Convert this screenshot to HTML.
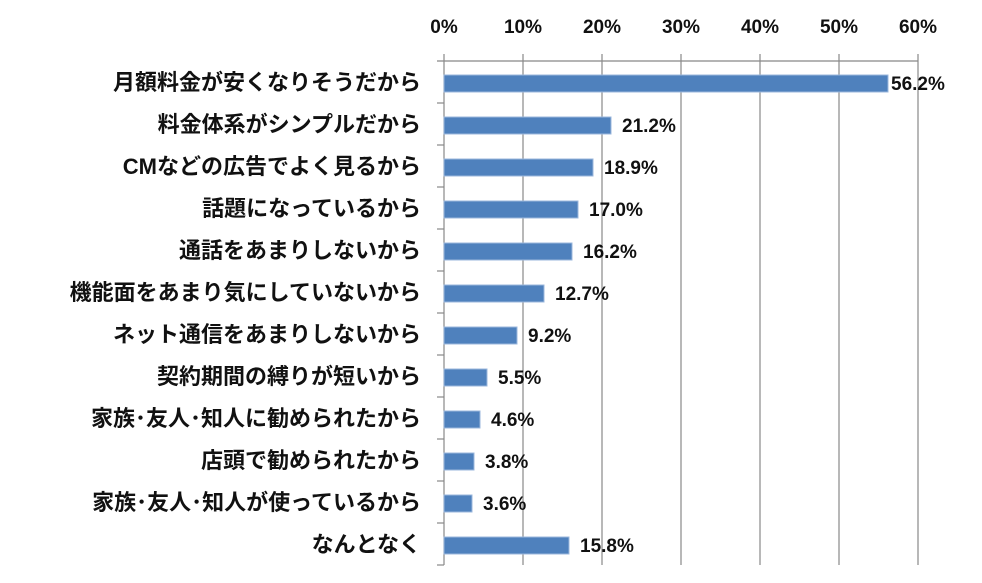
<!DOCTYPE html><html><head><meta charset="utf-8"><style>
body{margin:0;background:#fff;width:982px;height:578px;overflow:hidden}
text{font-family:"Liberation Sans","Noto Sans CJK JP",sans-serif;fill:#111}
</style></head><body>
<svg width="982" height="578" xmlns="http://www.w3.org/2000/svg">
<g stroke="#888" stroke-width="1.2">
<line x1="444" y1="54" x2="444" y2="565"/>
<line x1="523" y1="54" x2="523" y2="565"/>
<line x1="602" y1="54" x2="602" y2="565"/>
<line x1="681" y1="54" x2="681" y2="565"/>
<line x1="760" y1="54" x2="760" y2="565"/>
<line x1="839" y1="54" x2="839" y2="565"/>
<line x1="918" y1="54" x2="918" y2="565"/>
<line x1="437" y1="61" x2="918" y2="61"/>
<line x1="437" y1="103" x2="444" y2="103"/><line x1="437" y1="145" x2="444" y2="145"/><line x1="437" y1="187" x2="444" y2="187"/><line x1="437" y1="229" x2="444" y2="229"/><line x1="437" y1="271" x2="444" y2="271"/><line x1="437" y1="313" x2="444" y2="313"/><line x1="437" y1="355" x2="444" y2="355"/><line x1="437" y1="397" x2="444" y2="397"/><line x1="437" y1="439" x2="444" y2="439"/><line x1="437" y1="481" x2="444" y2="481"/><line x1="437" y1="523" x2="444" y2="523"/><line x1="437" y1="565" x2="444" y2="565"/>
</g>
<g font-size="19" font-weight="bold" text-anchor="middle">
<text x="444" y="33">0%</text><text x="523" y="33">10%</text><text x="602" y="33">20%</text><text x="681" y="33">30%</text><text x="760" y="33">40%</text><text x="839" y="33">50%</text><text x="918" y="33">60%</text>
</g>
<g fill="#4f81bd" stroke="#9bb7dc" stroke-width="1">
<rect x="444" y="75" width="444" height="17"/>
<rect x="444" y="117" width="167" height="17"/>
<rect x="444" y="159" width="149" height="17"/>
<rect x="444" y="201" width="134" height="17"/>
<rect x="444" y="243" width="128" height="17"/>
<rect x="444" y="285" width="100" height="17"/>
<rect x="444" y="327" width="73" height="17"/>
<rect x="444" y="369" width="43" height="17"/>
<rect x="444" y="411" width="36" height="17"/>
<rect x="444" y="453" width="30" height="17"/>
<rect x="444" y="495" width="28" height="17"/>
<rect x="444" y="537" width="125" height="17"/>
</g>
<g font-size="19" font-weight="bold">
<text x="891" y="90">56.2%</text><text x="622" y="132">21.2%</text><text x="604" y="174">18.9%</text><text x="589" y="216">17.0%</text><text x="583" y="258">16.2%</text><text x="555" y="300">12.7%</text><text x="528" y="342">9.2%</text><text x="498" y="384">5.5%</text><text x="491" y="426">4.6%</text><text x="485" y="468">3.8%</text><text x="483" y="510">3.6%</text><text x="580" y="552">15.8%</text>
</g>
<g font-size="22" font-weight="bold" text-anchor="end">
<text x="421" y="90">月額料金が安くなりそうだから</text>
<text x="421" y="132">料金体系がシンプルだから</text>
<text x="421" y="174">CMなどの広告でよく見るから</text>
<text x="421" y="216">話題になっているから</text>
<text x="421" y="258">通話をあまりしないから</text>
<text x="421" y="300">機能面をあまり気にしていないから</text>
<text x="421" y="342">ネット通信をあまりしないから</text>
<text x="421" y="384">契約期間の縛りが短いから</text>
<text x="421" y="426">家族･友人･知人に勧められたから</text>
<text x="421" y="468">店頭で勧められたから</text>
<text x="421" y="510">家族･友人･知人が使っているから</text>
<text x="421" y="552">なんとなく</text>
</g>
</svg>
</body></html>
